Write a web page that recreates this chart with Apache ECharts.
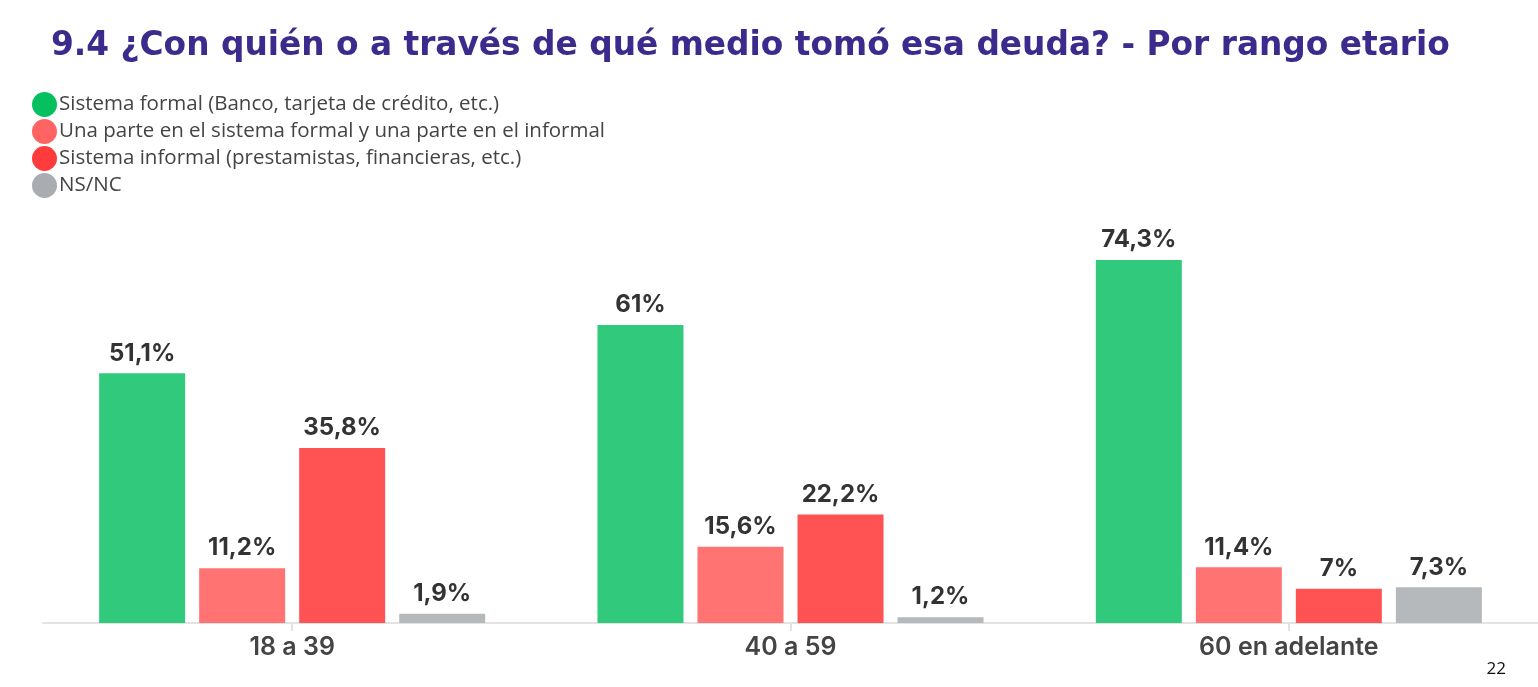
<!DOCTYPE html>
<html>
<head>
<meta charset="utf-8">
<script src="https://cdn.jsdelivr.net/npm/echarts@6/dist/echarts.min.js"></script>
<style>
html,body{margin:0;padding:0;background:#fff;}
#chart{width:1538px;height:687px;}
</style>
</head>
<body>
<div id="chart"></div>
<script>
const categories = ['18 a 39', '40 a 59', '60 en adelante'];
const seriesNames = [
  'Sistema formal (Banco, tarjeta de crédito, etc.)',
  'Una parte en el sistema formal y una parte en el informal',
  'Sistema informal (prestamistas, financieras, etc.)',
  'NS/NC'
];
const formalValues = [51.1, 61, 74.3];
const mixedValues = [11.2, 15.6, 11.4];
const informalValues = [35.8, 22.2, 7];
const nsncValues = [1.9, 1.2, 7.3];
const titleText = '9.4 ¿Con quién o a través de qué medio tomó esa deuda? - Por rango etario';
const pageNumber = '22';

const barColors = ['#31CA7C', '#FF7373', '#FF5353', '#B6B9BC'];
const legendColors = ['#05C05F', '#FF6464', '#FF3B3B', '#A9ACB0'];
const allValues = [formalValues, mixedValues, informalValues, nsncValues];

const chart = echarts.init(document.getElementById('chart'), null, {renderer: 'canvas'});

const fmt = v => String(v).replace('.', ',') + '%';

const series = seriesNames.map((name, i) => ({
  name: name,
  type: 'bar',
  data: allValues[i],
  barWidth: 86,
  barGap: '16.3%',
  itemStyle: {color: barColors[i]},
  label: {
    show: true,
    position: 'top',
    distance: 8,
    formatter: p => fmt(p.value),
    color: '#333333',
    fontFamily: 'Inter',
    fontWeight: 'bold',
    fontSize: 24
  }
}));

chart.setOption({
  animation: false,
  backgroundColor: '#ffffff',
  title: {
    text: titleText,
    left: 46,
    top: 25,
    textStyle: {
      color: '#3C2A8C',
      fontFamily: 'DejaVu Sans',
      fontWeight: 'bold',
      fontSize: 32.8
    }
  },
  legend: {
    orient: 'vertical',
    left: 27,
    top: 87,
    icon: 'circle',
    itemWidth: 25,
    itemHeight: 25,
    itemGap: 2,
    textStyle: {
      color: '#444444',
      fontFamily: 'Open Sans',
      fontSize: 20.5,
      padding: [0, 0, 0, -3]
    },
    data: seriesNames.map((n, i) => ({name: n, itemStyle: {color: legendColors[i]}}))
  },
  grid: {
    left: 43,
    right: 0,
    top: 134.4,
    bottom: 64,
    containLabel: false
  },
  xAxis: {
    type: 'category',
    data: categories,
    axisLine: {lineStyle: {color: '#E3E3E3', width: 2}},
    axisTick: {show: true, alignWithLabel: true, length: 8, lineStyle: {color: '#E3E3E3', width: 2}},
    axisLabel: {
      color: '#444444',
      fontFamily: 'Inter',
      fontWeight: 600,
      fontSize: 25,
      margin: 12
    }
  },
  yAxis: {
    type: 'value',
    min: 0,
    max: 100,
    show: false,
    splitLine: {show: false}
  },
  graphic: [{
    type: 'text',
    right: 32,
    top: 661,
    style: {text: pageNumber, fill: '#111111', fontFamily: 'Open Sans', fontSize: 17}
  }],
  series: series
});
</script>
</body>
</html>
